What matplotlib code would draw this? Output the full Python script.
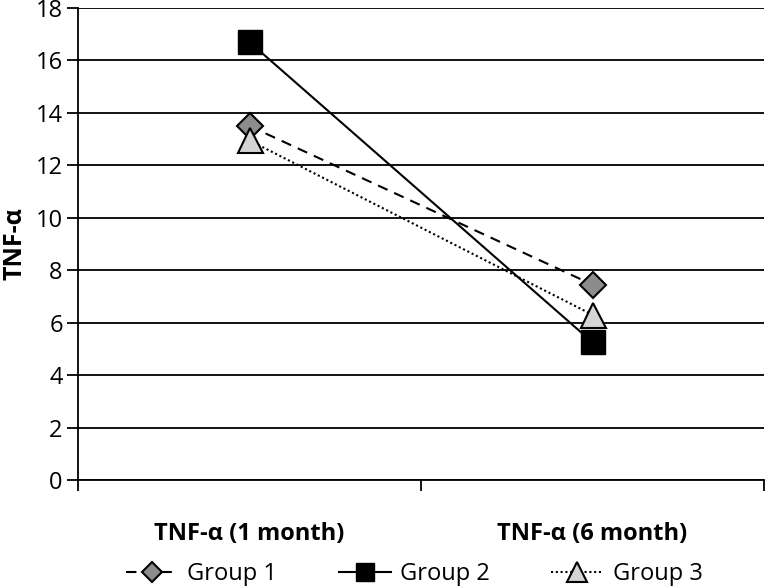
import matplotlib
import numpy as np

matplotlib.use("Agg")
import matplotlib.pyplot as plt

categories = ["TNF-\u03b1 (1 month)", "TNF-\u03b1 (6 month)"]
group1 = [13.5, 7.45]
group2 = [16.7, 5.25]
group3 = [12.95, 6.3]
y_ticks = [0, 2, 4, 6, 8, 10, 12, 14, 16, 18]

plt.rcParams["font.family"] = ["Open Sans", "DejaVu Sans"]

fig = plt.figure(figsize=(7.65, 5.87), dpi=100)
ax = fig.add_axes([78 / 765, 1 - 480 / 587, 686 / 765, 472 / 587])

x = np.arange(len(categories))
ax.plot(x, group1, color="black", linestyle=(0, (5, 3.5)), linewidth=1.5,
        marker="D", markersize=13, markerfacecolor="#8c8c8c",
        markeredgecolor="black", markeredgewidth=1.5, label="Group 1", zorder=3)
ax.plot(x, group2, color="black", linestyle="-", linewidth=1.5,
        marker="s", markersize=17, markerfacecolor="black",
        markeredgecolor="black", label="Group 2", zorder=3)
ax.plot(x, group3, color="black", linestyle=(0, (1, 1.3)), linewidth=1.5,
        marker="^", markersize=18, markerfacecolor="#d4d4d4",
        markeredgecolor="black", markeredgewidth=1.5, label="Group 3", zorder=3)

ax.set_xlim(-0.5, 1.5)
ax.set_ylim(0, 18)
ax.set_yticks(y_ticks)
ax.tick_params(axis="y", labelsize=17, length=8, width=1.3, direction="out", pad=3)
ax.set_xticks(x)
ax.set_xticklabels(categories, fontsize=17, fontweight="bold")
ax.tick_params(axis="x", length=0, pad=30)
ax.set_xticks([-0.5, 0.5, 1.5], minor=True)
ax.tick_params(axis="x", which="minor", length=8, width=1.3, direction="out")

ax.grid(axis="y", color="black", linewidth=1.3)
ax.set_axisbelow(True)
for side in ["top", "right"]:
    ax.spines[side].set_visible(False)
ax.spines["left"].set_linewidth(1.3)
ax.spines["bottom"].set_linewidth(1.3)

ax.set_ylabel("TNF-\u03b1", fontsize=18, fontweight="bold", labelpad=6)

ax.legend(loc="center", bbox_to_anchor=(0.49, -0.2), ncol=3, frameon=False,
          fontsize=17, handlelength=2.2, columnspacing=2.6, handletextpad=0.4,
          markerscale=0.8)

plt.savefig("out.png", dpi=100)
plt.close()
